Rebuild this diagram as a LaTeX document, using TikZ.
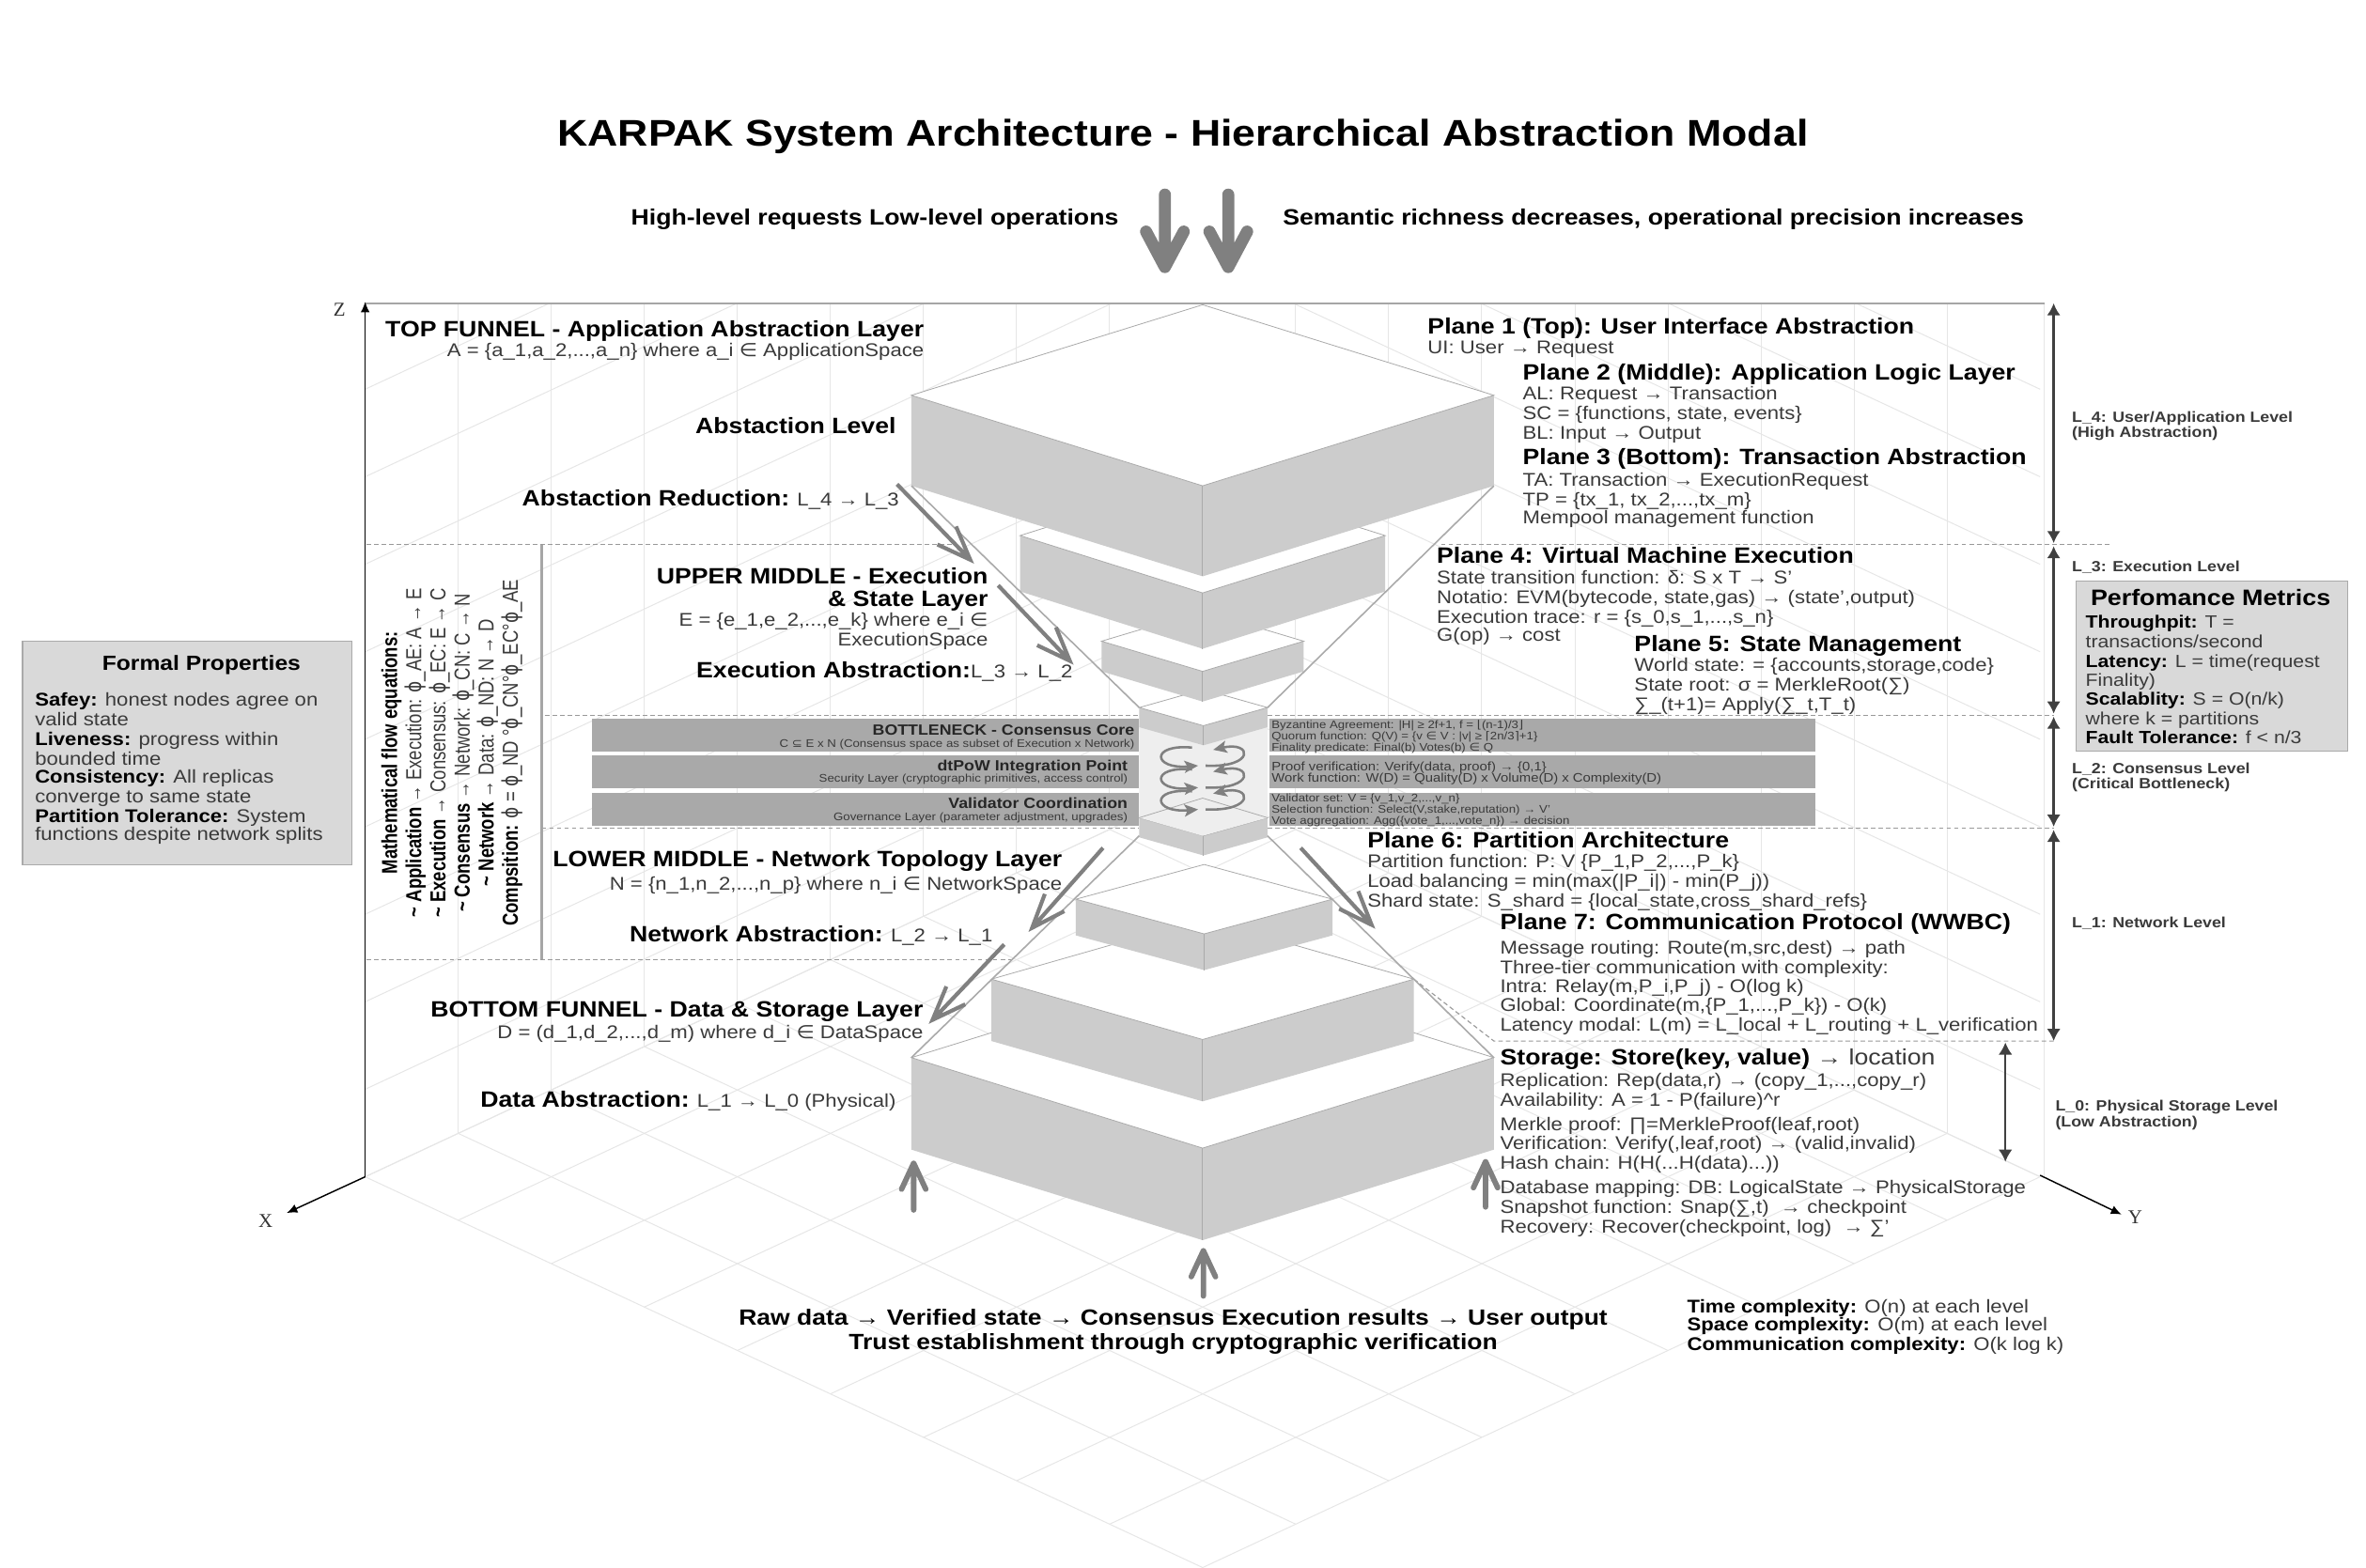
\documentclass[tikz,border=0pt]{standalone}
\usepackage{fontspec}
\setmainfont[FakeStretch=1.13]{Liberation Sans}
\newfontfamily\serfont{Liberation Serif}
\newfontfamily\sympfont[FakeStretch=1.13]{DejaVu Sans}
\newfontfamily\flowfont[FakeStretch=0.8]{Liberation Sans}
\newfontfamily\flowsym[FakeStretch=0.8]{DejaVu Sans}
\usepackage{tikz}
\usetikzlibrary{arrows.meta,calc}
\definecolor{wallgray}{HTML}{CCCCCC}
\definecolor{bargray}{HTML}{A9A9A9}
\definecolor{gridgray}{HTML}{E6E6E6}
\definecolor{arrgray}{HTML}{808080}
\definecolor{edgegray}{HTML}{AAAAAA}
\definecolor{panelgray}{HTML}{D9D9D9}
\definecolor{subtext}{HTML}{3A3A3A}
\newcommand{\fs}[1]{\fontsize{#1}{#1}\selectfont}
\newcommand{\syin}{{\sympfont∈}}
\newcommand{\sysub}{{\sympfont⊆}}
\newcommand{\syphi}{{\flowsym ϕ}}
% left x, right x, y of side corners, half depth, wall height
\newcommand{\funnelbox}[5]{%
  \fill[wallgray] (#1,#3) -- ({(#1+#2)/2},#3+#4) -- (#2,#3) -- (#2,#3+#5) -- ({(#1+#2)/2},#3+#4+#5) -- (#1,#3+#5) -- cycle;
  \draw[edgegray, line width=0.5pt, fill=white] (#1,#3) -- ({(#1+#2)/2},#3-#4) -- (#2,#3) -- ({(#1+#2)/2},#3+#4) -- cycle;
  \draw[edgegray, line width=0.5pt] ({(#1+#2)/2},#3+#4) -- ({(#1+#2)/2},#3+#4+#5);}
% style, start, end, barb length, barb angle
\newcommand{\barbarrow}[5]{%
  \draw[#1] (#2) -- (#3) ($(#3)!#4!#5:(#2)$) -- (#3) -- ($(#3)!#4!-#5:(#2)$);}
\tikzset{
  grid/.style={gridgray, line width=0.6pt},
  axisline/.style={-{Latex[length=7pt,width=6pt]}, black, line width=0.9pt},
  levarr/.style={{Latex[length=8pt,width=9pt]}-{Latex[length=8pt,width=9pt]}, black!75, line width=1.5pt},
  levdash/.style={dashed, dash pattern=on 3pt off 2pt, gray!80, line width=0.7pt},
  funnel/.style={edgegray, line width=1pt},
  flowarr/.style={arrgray, line width=2.6pt, line join=miter},
  bigarr/.style={arrgray, line width=8pt, line cap=round, line join=round},
  uparr/.style={arrgray, line width=3.6pt, line cap=round, line join=round},
  swirl/.style={-{Stealth[length=9pt, width=8pt, inset=2pt]}, arrgray, line width=1.6pt},
  infobox/.style={fill=panelgray, draw=edgegray, line width=0.8pt},
  ttl/.style={anchor=center, inner sep=0pt, font=\bfseries\fs{24.6}},
  head/.style={anchor=mid west, yshift=-1.5pt, inner sep=0pt, font=\bfseries\fs{14.7}},
  headr/.style={anchor=mid east, yshift=-1.5pt, inner sep=0pt, font=\bfseries\fs{14.7}},
  sub/.style={anchor=mid west, yshift=-1.5pt, inner sep=0pt, text=subtext, font=\fs{12.2}},
  subr/.style={anchor=mid east, yshift=-1.5pt, inner sep=0pt, text=subtext, font=\fs{12.2}},
  bartl/.style={anchor=mid east, inner sep=0pt, text=black!85, font=\bfseries\fs{9.8}},
  barsb/.style={anchor=mid east, inner sep=0pt, text=subtext, font=\fs{7.3}},
  barln/.style={anchor=mid west, inner sep=0pt, text=subtext, font=\fs{7.3}},
  barlg/.style={anchor=mid west, inner sep=0pt, text=subtext, font=\fs{8.2}},
  lev/.style={anchor=mid west, yshift=-1pt, inner sep=0pt, text=subtext, font=\bfseries\fs{9.8}},
  axl/.style={inner sep=0pt, text=black!80, font=\serfont\fs{13}},
  boxln/.style={anchor=mid west, yshift=-1.5pt, inner sep=0pt, text=subtext, font=\fs{11.7}},
  fpln/.style={boxln, font=\fs{12.2}},
}
\begin{document}
\begin{tikzpicture}[x=1pt,y=-1pt]
\useasboundingbox (0,0) rectangle (1568,1039);
\fill[white] (0,0) rectangle (1568,1039);
%---- back walls and floor
\begin{scope}
  \clip (0,201) rectangle (1568,1039);
  \foreach \k in {0,...,9} {
    \draw[grid] (242,780-58*\k) -- (797,521-58*\k) -- (1352,780-58*\k);
  }
  \foreach \i in {1,...,9} {
    \draw[grid] (242+61.67*\i,201) -- (242+61.67*\i,780-28.78*\i);
    \draw[grid] (1352-61.67*\i,201) -- (1352-61.67*\i,780-28.78*\i);
  }
  \draw[grid] (1355,201) -- (1355,780);
  \foreach \i in {0,...,9} {
    \draw[grid] (242+61.67*\i,780-28.78*\i) -- (797+61.67*\i,1039-28.78*\i);
    \draw[grid] (242+61.67*\i,780+28.78*\i) -- (797+61.67*\i,521+28.78*\i);
  }
\end{scope}
\draw[gray!70, line width=1.2pt] (242,201) -- (1355,201);
%---- axes
\coordinate (orig) at (242,780);
\coordinate (ztip) at (242,200);
\coordinate (xtip) at (190,804);
\coordinate (ybase) at (1352,779);
\coordinate (ytip) at (1406,805);
\draw[axisline] (orig) -- (ztip);
\draw[axisline] (orig) -- (xtip);
\draw[axisline] (ybase) -- (ytip);
\node[axl] (zlab) at (225,205) {Z};
\node[axl] (xlab) at (176,809) {X};
\node[axl] (ylab) at (1415,807) {Y};
%---- level separators
\draw[levdash] (243,361) -- (631,361);
\draw[levdash] (955,361) -- (1398,361);
\draw[levdash] (361,474) -- (755,474);
\draw[levdash] (840,474) -- (1361,474);
\draw[levdash] (359,549) -- (755,549);
\draw[levdash] (840,549) -- (1361,549);
\draw[levdash] (243,636) -- (672,636);
\draw[levdash] (937,649) -- (990,690) -- (1362,690);
\draw[gray!70, line width=1.8pt] (359,361) -- (359,636);
%---- funnel blocks, lowest first
\funnelbox{604}{990}{701}{60}{61}
\funnelbox{657}{937}{649}{40}{41}
\funnelbox{713}{883}{596}{23}{24}
\funnelbox{755}{840}{542}{12}{13}
\fill[gray!13] (755,481) -- (797,494) -- (840,481) -- (840,542) -- (797,554) -- (755,542) -- cycle;
\draw[edgegray, line width=0.5pt] (755,542) -- (797,529) -- (840,542);
\funnelbox{755}{840}{469}{12}{13}
\funnelbox{730}{864}{425}{20}{20}
\funnelbox{676}{918}{355}{38}{37}
\funnelbox{604}{990}{262}{60}{60}
%---- funnel outline
\draw[funnel] (604,322) -- (755,469);
\draw[funnel] (990,322) -- (840,469);
\draw[funnel] (755,554) -- (604,701);
\draw[funnel] (840,554) -- (990,701);
%---- consensus bars
\foreach \yt/\yb in {476.5/498,500.5/522.5,525.5/547.5} {
  \fill[bargray] (392,\yt) rectangle (754.5,\yb);
  \fill[bargray] (841,\yt) rectangle (1203,\yb);
}
\node[bartl] (bn1) at (752,484.5) {BOTTLENECK - Consensus Core};
\node[barsb] (bn2) at (752,493) {C \sysub{} E x N (Consensus space as subset of Execution x Network)};
\node[bartl] (dt1) at (747.5,508) {dtPoW Integration Point};
\node[barsb] (dt2) at (747.5,516) {Security Layer (cryptographic primitives, access control)};
\node[bartl] (vc1) at (747.5,533) {Validator Coordination};
\node[barsb] (vc2) at (747.5,541) {Governance Layer (parameter adjustment, upgrades)};
\node[barln] (bz1) at (842.5,480) {Byzantine Agreement: |H| ≥ 2f+1, f = {\sympfont⌊}(n-1)/3{\sympfont⌋}};
\node[barln] (bz2) at (842.5,487.5) {Quorum function: Q(V) = \{v \syin{} V : |v| ≥ {\sympfont⌈}2n/3{\sympfont⌉}+1\}};
\node[barln] (bz3) at (842.5,495) {Finality predicate: Final(b) Votes(b) \syin{} Q};
\node[barlg] (pf1) at (842.5,508) {Proof verification: Verify(data, proof) → \{0,1\}};
\node[barlg] (pf2) at (842.5,515.6) {Work function: W(D) = Quality(D) x Volume(D) x Complexity(D)};
\node[barln] (vs1) at (842.5,528.7) {Validator set: V = \{v\_1,v\_2,...,v\_n\}};
\node[barln] (vs2) at (842.5,536) {Selection function: Select(V,stake,reputation) → V'};
\node[barln] (vs3) at (842.5,543.7) {Vote aggregation: Agg(\{vote\_1,...,vote\_n\}) → decision};
%---- swirl arrows on the core
\foreach \yo in {0,14.5,29} {
  \draw[swirl] (790,495.5+\yo) .. controls (762,493+\yo) and (764,510+\yo) .. (794,507.5+\yo);
  \draw[swirl] (799,507.5+\yo) .. controls (832,509+\yo) and (830,491+\yo) .. (804,497+\yo);
}
%---- flow arrows
\coordinate (fa1s) at (594.5,321); \coordinate (fa1e) at (643,371);
\coordinate (fa2s) at (661.5,388); \coordinate (fa2e) at (709,438);
\coordinate (fa3s) at (862,562);   \coordinate (fa3e) at (909,613);
\coordinate (fa4s) at (731,562);   \coordinate (fa4e) at (684,615);
\coordinate (fa5s) at (665.5,626); \coordinate (fa5e) at (618,676);
\barbarrow{flowarr}{fa1s}{fa1e}{24pt}{21}
\barbarrow{flowarr}{fa2s}{fa2e}{24pt}{21}
\barbarrow{flowarr}{fa3s}{fa3e}{24pt}{21}
\barbarrow{flowarr}{fa4s}{fa4e}{24pt}{21}
\barbarrow{flowarr}{fa5s}{fa5e}{24pt}{21}
\coordinate (ua1s) at (605.5,802); \coordinate (ua1e) at (605.5,771);
\coordinate (ua2s) at (984.5,800); \coordinate (ua2e) at (984.5,770);
\coordinate (ua3s) at (797.5,859); \coordinate (ua3e) at (797.5,829);
\barbarrow{uparr}{ua1s}{ua1e}{19pt}{25}
\barbarrow{uparr}{ua2s}{ua2e}{19pt}{25}
\barbarrow{uparr}{ua3s}{ua3e}{19pt}{25}
\coordinate (da1s) at (772,129); \coordinate (da1e) at (772,177);
\coordinate (da2s) at (814,129); \coordinate (da2e) at (814,177);
\barbarrow{bigarr}{da1s}{da1e}{26.6pt}{28}
\barbarrow{bigarr}{da2s}{da2e}{26.6pt}{28}
%---- level arrows
\coordinate (la0) at (1361,201);  \coordinate (la1) at (1361,360);
\coordinate (lb0) at (1361,362);  \coordinate (lb1) at (1361,473);
\coordinate (lc0) at (1361,475);  \coordinate (lc1) at (1361,548);
\coordinate (ld0) at (1361,550);  \coordinate (ld1) at (1361,690);
\coordinate (le0) at (1329,691);  \coordinate (le1) at (1329,770);
\draw[levarr] (la0) -- (la1);
\draw[levarr] (lb0) -- (lb1);
\draw[levarr] (lc0) -- (lc1);
\draw[levarr] (ld0) -- (ld1);
\draw[levarr, line width=1pt] (le0) -- (le1);
\node[lev] (l4a) at (1373,276) {L\_4: User/Application Level};
\node[lev] (l4b) at (1373,286) {(High Abstraction)};
\node[lev] (l3a) at (1373,375) {L\_3: Execution Level};
\node[lev] (l2a) at (1373,509) {L\_2: Consensus Level};
\node[lev] (l2b) at (1373,519) {(Critical Bottleneck)};
\node[lev] (l1a) at (1373,611) {L\_1: Network Level};
\node[lev] (l0a) at (1362,733) {L\_0: Physical Storage Level};
\node[lev] (l0b) at (1362,743) {(Low Abstraction)};
%---- title
\node[ttl] (title) at (784,90.5) {KARPAK System Architecture - Hierarchical Abstraction Modal};
\node[head] (hireq) at (418,145) {High-level requests Low-level operations};
\node[head] (semri) at (850,145) {Semantic richness decreases, operational precision increases};
%---- left column
\node[headr] (topf) at (612.5,219) {TOP FUNNEL - Application Abstraction Layer};
\node[subr] (topa) at (612.5,232) {A = \{a\_1,a\_2,...,a\_n\} where a\_i \syin{} ApplicationSpace};
\node[headr] (abl) at (594,283) {Abstaction Level};
\node[subr] (abr) at (596,331) {\textcolor{black}{\bfseries\fs{14.7}Abstaction Reduction:} L\_4 → L\_3};
\node[headr] (upm1) at (655,383) {UPPER MIDDLE - Execution};
\node[headr] (upm2) at (655,398) {\& State Layer};
\node[subr] (upm3) at (655,411) {E = \{e\_1,e\_2,...,e\_k\} where e\_i \syin};
\node[subr] (upm4) at (655,424) {ExecutionSpace};
\node[subr] (exab) at (711,445) {\textcolor{black}{\bfseries\fs{14.7}Execution Abstraction:}L\_3 → L\_2};
\node[headr] (lom1) at (704,570) {LOWER MIDDLE - Network Topology Layer};
\node[subr] (lom2) at (704,586) {N = \{n\_1,n\_2,...,n\_p\} where n\_i \syin{} NetworkSpace};
\node[subr] (ntab) at (658,620) {\textcolor{black}{\bfseries\fs{14.7}Network Abstraction:} L\_2 → L\_1};
\node[headr] (bof1) at (612,670) {BOTTOM FUNNEL - Data \& Storage Layer};
\node[subr] (bof2) at (612,684) {D = (d\_1,d\_2,...,d\_m) where d\_i \syin{} DataSpace};
\node[subr] (daab) at (594,730) {\textcolor{black}{\bfseries\fs{14.7}Data Abstraction:} L\_1 → L\_0 (Physical)};
%---- flow equations
\node[rotate=90, inner sep=0pt, align=center, text=subtext, font=\flowfont\fs{14.4}, text depth=0pt] (floweq) at (298,499) {%
  \textcolor{black}{\bfseries Mathematical flow equations:}\\[1.6pt]
  \textcolor{black}{\bfseries \textasciitilde{} Application} → Execution: \syphi\_AE: A → E\\[1.6pt]
  \textcolor{black}{\bfseries \textasciitilde{} Execution} → Consensus: \syphi\_EC: E → C\\[1.6pt]
  \textcolor{black}{\bfseries \textasciitilde{} Consensus} → Network: \syphi\_CN: C → N\\[1.6pt]
  \textcolor{black}{\bfseries \textasciitilde{} Network} → Data: \syphi\_ND: N → D\\[1.6pt]
  \textcolor{black}{\bfseries Compsition:} \syphi{} = \syphi\_ND °\syphi\_CN°\syphi\_EC°\syphi\_AE};
%---- planes 1 to 5
\node[head] (p1h) at (946,217) {Plane 1 (Top): User Interface Abstraction};
\node[sub] (p1a) at (946,230) {UI: User → Request};
\node[head] (p2h) at (1009,248) {Plane 2 (Middle): Application Logic Layer};
\node[sub] (p2a) at (1009,261) {AL: Request → Transaction};
\node[sub] (p2b) at (1009,274) {SC = \{functions, state, events\}};
\node[sub] (p2c) at (1009,287) {BL: Input → Output};
\node[head] (p3h) at (1009,304) {Plane 3 (Bottom): Transaction Abstraction};
\node[sub] (p3a) at (1009,318) {TA: Transaction → ExecutionRequest};
\node[sub] (p3b) at (1009,331) {TP = \{tx\_1, tx\_2,...,tx\_m\}};
\node[sub] (p3c) at (1009,343) {Mempool management function};
\node[head] (p4h) at (952,369) {Plane 4: Virtual Machine Execution};
\node[sub] (p4a) at (952,383) {State transition function: δ: S x T → S'};
\node[sub] (p4b) at (952,396) {Notatio: EVM(bytecode, state,gas) → (state',output)};
\node[sub] (p4c) at (952,409) {Execution trace: r = \{s\_0,s\_1,...,s\_n\}};
\node[sub] (p4d) at (952,421) {G(op) → cost};
\node[head] (p5h) at (1083,428) {Plane 5: State Management};
\node[sub] (p5a) at (1083,441) {World state: = \{accounts,storage,code\}};
\node[sub] (p5b) at (1083,454) {State root: σ = MerkleRoot(∑)};
\node[sub] (p5c) at (1083,467) {∑\_(t+1)= Apply(∑\_t,T\_t)};
%---- planes 6, 7 and storage
\node[head] (p6h) at (906,558) {Plane 6: Partition Architecture};
\node[sub] (p6a) at (906,571) {Partition function: P: V \{P\_1,P\_2,...,P\_k\}};
\node[sub] (p6b) at (906,584) {Load balancing = min(max(|P\_i|) - min(P\_j))};
\node[sub] (p6c) at (906,597) {Shard state: S\_shard = \{local\_state,cross\_shard\_refs\}};
\node[head] (p7h) at (994,612) {Plane 7: Communication Protocol (WWBC)};
\node[sub] (p7a) at (994,628) {Message routing: Route(m,src,dest) → path};
\node[sub] (p7b) at (994,641) {Three-tier communication with complexity:};
\node[sub] (p7c) at (994,654) {Intra: Relay(m,P\_i,P\_j) - O(log k)};
\node[sub] (p7d) at (994,666) {Global: Coordinate(m,\{P\_1,...,P\_k\}) - O(k)};
\node[sub] (p7e) at (994,679) {Latency modal: L(m) = L\_local + L\_routing + L\_verification};
\node[head] (sth) at (994,702) {Storage: Store(key, value) {\mdseries\color{subtext} → location}};
\node[sub] (sta) at (994,716) {Replication: Rep(data,r) → (copy\_1,...,copy\_r)};
\node[sub] (stb) at (994,729) {Availability: A = 1 - P(failure)\^{}r};
\node[sub] (stc) at (994,745) {Merkle proof: ∏=MerkleProof(leaf,root)};
\node[sub] (std) at (994,758) {Verification: Verify(,leaf,root) → (valid,invalid)};
\node[sub] (ste) at (994,771) {Hash chain: H(H(...H(data)...))};
\node[sub] (stf) at (994,787) {Database mapping: DB: LogicalState → PhysicalStorage};
\node[sub] (stg) at (994,800) {Snapshot function: Snap(∑,t)~ → checkpoint};
\node[sub] (sth2) at (994,813) {Recovery: Recover(checkpoint, log)~ → ∑'};
%---- bottom texts
\node[inner sep=0pt, font=\bfseries\fs{14.6}] (raw) at (777.5,874.5) {Raw data → Verified state → Consensus Execution results → User output};
\node[inner sep=0pt, font=\bfseries\fs{14.6}] (trust) at (777.5,890.5) {Trust establishment through cryptographic verification};
\node[sub] (cpa) at (1118,866) {\textcolor{black}{\bfseries Time complexity:} O(n) at each level};
\node[sub] (cpb) at (1118,878) {\textcolor{black}{\bfseries Space complexity:} O(m) at each level};
\node[sub] (cpc) at (1118,891) {\textcolor{black}{\bfseries Communication complexity:} O(k log k)};
%---- side boxes
\draw[infobox] (1376,385) rectangle (1556,498);
\node[inner sep=0pt, font=\bfseries\fs{14.8}] (pmt) at (1465,396) {Perfomance Metrics};
\node[boxln] (pm1) at (1382,412) {\textcolor{black}{\bfseries Throughpit:} T =};
\node[boxln] (pm2) at (1382,425) {transactions/second};
\node[boxln] (pm3) at (1382,438) {\textcolor{black}{\bfseries Latency:} L = time(request};
\node[boxln] (pm4) at (1382,451) {Finality)};
\node[boxln] (pm5) at (1382,463) {\textcolor{black}{\bfseries Scalablity:} S = O(n/k)};
\node[boxln] (pm6) at (1382,476) {where k = partitions};
\node[boxln] (pm7) at (1382,489) {\textcolor{black}{\bfseries Fault Tolerance:} f < n/3};
\draw[infobox] (15,425) rectangle (233,573);
\node[inner sep=0pt, font=\bfseries\fs{13.6}] (fpt) at (133.5,441) {Formal Properties};
\node[fpln] (fp1) at (23,464) {\textcolor{black}{\bfseries Safey:} honest nodes agree on};
\node[fpln] (fp2) at (23,477) {valid state};
\node[fpln] (fp3) at (23,490) {\textcolor{black}{\bfseries Liveness:} progress within};
\node[fpln] (fp4) at (23,503) {bounded time};
\node[fpln] (fp5) at (23,515) {\textcolor{black}{\bfseries Consistency:} All replicas};
\node[fpln] (fp6) at (23,528) {converge to same state};
\node[fpln] (fp7) at (23,541) {\textcolor{black}{\bfseries Partition Tolerance:} System};
\node[fpln] (fp8) at (23,553) {functions despite network splits};
\end{tikzpicture}
\end{document}
